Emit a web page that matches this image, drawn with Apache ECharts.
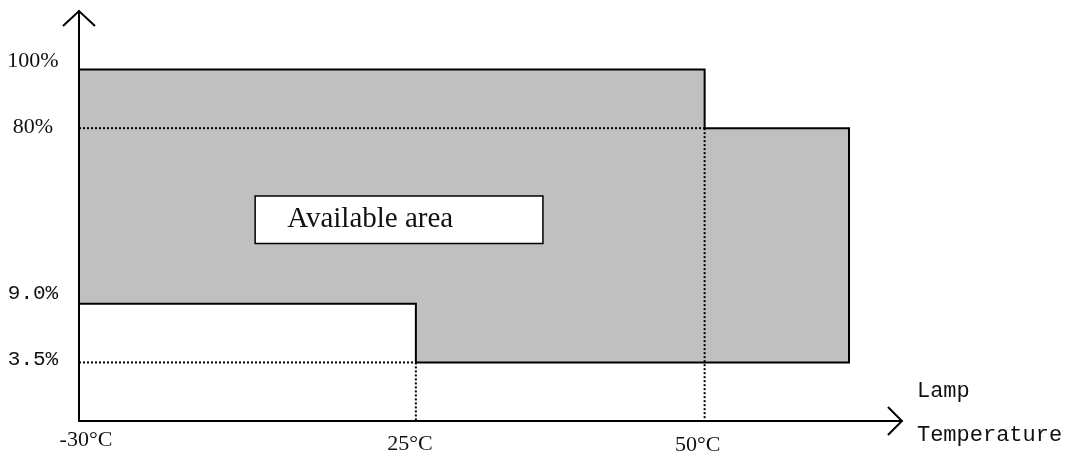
<!DOCTYPE html>
<html>
<head>
<meta charset="utf-8">
<script src="https://cdn.jsdelivr.net/npm/echarts@6/dist/echarts.min.js"></script>
<style>
  html, body { margin: 0; padding: 0; background: #fff; }
  #chart { width: 1076px; height: 452px; }
</style>
</head>
<body>
<div id="chart"></div>
<script>
// ---- Data (schematic, not-to-scale axis steps) ----
// X axis steps: -30℃ at step 0, 25℃ at step 7, 50℃ at step 13, upper limit at step 16
const xTickSteps = [0, 7, 13];
const xTickLabels = ['-30°C', '25°C', '50°C'];
const xUpperStep = 16;
// Y axis steps: 3.5% at 1, 9.0% at 2, 80% at 5, 100% at 6
const yTickSteps = [1, 2, 5, 6];
const yTickLabels = ['3.5%', '9.0%', '80%', '100%'];
// Outline of the available area (in axis steps)
const areaXSteps = [0, 13, 13, xUpperStep, xUpperStep, 7, 7, 0];
const areaYSteps = [6, 6, 5, 5, 1, 1, 2, 2];
// Dotted reference lines (80% up to 50℃, 3.5% up to 25℃)
const guideSegments = [
  [[0, 5], [13, 5]],
  [[13, 5], [13, 0]],
  [[0, 1], [7, 1]],
  [[7, 1], [7, 0]]
];
const areaLabel = 'Available area';
const xNameLines = ['Lamp', 'Temperature'];

const X_MAX = 17.1, Y_MAX = 7;

const yRichKey = { '100%': 'a', '80%': 'b', '9.0%': 'c', '3.5%': 'd' };
const xRichKey = { '-30°C': 'l', '25°C': 'm', '50°C': 'n' };

const chart = echarts.init(document.getElementById('chart'), null, { renderer: 'canvas' });

const option = {
  animation: false,
  backgroundColor: '#ffffff',
  grid: { left: 79, right: 1076 - 79 - 48.125 * X_MAX, top: 11, bottom: 31, containLabel: false, outerBoundsMode: 'none' },
  xAxis: {
    type: 'value', min: 0, max: X_MAX, interval: 1,
    splitLine: { show: false },
    axisTick: { show: false },
    axisLine: { show: true, onZero: false, lineStyle: { color: '#000', width: 2 } },
    axisLabel: {
      show: true, margin: 8, showMinLabel: true, showMaxLabel: true, hideOverlap: false,
      formatter: v => {
        const i = xTickSteps.indexOf(v);
        if (i < 0) return '';
        const t = xTickLabels[i];
        return '{' + xRichKey[t] + '|' + t + '}';
      },
      rich: {
        l: { fontFamily: 'Liberation Serif', fontSize: 22, color: '#111', padding: [0, 0, 0, 14] },
        m: { fontFamily: 'Liberation Serif', fontSize: 22, color: '#111', padding: [4, 12, 0, 0] },
        n: { fontFamily: 'Liberation Serif', fontSize: 22, color: '#111', padding: [5, 14, 0, 0] }
      }
    },
    name: '{p|' + xNameLines[0] + '}\n{p|' + xNameLines[1] + '}\n{r| }',
    nameLocation: 'end',
    nameGap: 15,
    nameTextStyle: {
      align: 'left', verticalAlign: 'middle',
      rich: {
        p: { fontFamily: 'Liberation Mono', fontSize: 22, color: '#111', lineHeight: 44 },
        r: { fontSize: 2, lineHeight: 16 }
      }
    }
  },
  yAxis: {
    type: 'value', min: 0, max: Y_MAX, interval: 1,
    splitLine: { show: false },
    axisTick: { show: false },
    axisLine: { show: true, onZero: false, lineStyle: { color: '#000', width: 2 } },
    axisLabel: {
      show: true, margin: 46, align: 'center', showMinLabel: true, showMaxLabel: true, hideOverlap: false,
      formatter: v => {
        const i = yTickSteps.indexOf(v);
        if (i < 0) return '';
        const t = yTickLabels[i];
        return '{' + yRichKey[t] + '|' + t + '}';
      },
      rich: {
        a: { fontFamily: 'Liberation Serif', fontSize: 22, color: '#111', padding: [0, 0, 16, 0] },
        b: { fontFamily: 'Liberation Serif', fontSize: 22, color: '#111', padding: [0, 0, 2, 0] },
        c: { fontFamily: 'Liberation Mono', fontSize: 21, color: '#111', padding: [0, 0, 20, 0] },
        d: { fontFamily: 'Liberation Mono', fontSize: 21, color: '#111', padding: [0, 0, 6, 0] }
      }
    }
  },
  series: [
    {
      type: 'custom',
      name: 'area',
      z: 2,
      data: [[0, 0]],
      renderItem: (params, api) => {
        const pts = areaXSteps.map((x, i) => api.coord([x, areaYSteps[i]]));
        return {
          type: 'polygon',
          shape: { points: pts },
          style: { fill: '#c0c0c0', stroke: '#000', lineWidth: 2 }
        };
      }
    },
    {
      type: 'custom',
      name: 'guides',
      z: 3,
      data: guideSegments.map((s, i) => [i, 0]),
      renderItem: (params, api) => {
        const seg = guideSegments[params.dataIndex];
        const p1 = api.coord(seg[0]);
        const p2 = api.coord(seg[1]);
        return {
          type: 'line',
          shape: { x1: p1[0], y1: p1[1], x2: p2[0], y2: p2[1] },
          style: { stroke: '#000', lineWidth: 2, lineDash: [2, 2] }
        };
      }
    },
    {
      type: 'custom',
      name: 'labelBox',
      z: 4,
      data: [[0, 0]],
      renderItem: (params, api) => {
        const tl = api.coord([3.66, 3.84]);
        const br = api.coord([9.64, 3.03]);
        return {
          type: 'group',
          children: [
            {
              type: 'rect',
              shape: { x: tl[0], y: tl[1], width: br[0] - tl[0], height: br[1] - tl[1] },
              style: { fill: '#fff', stroke: '#000', lineWidth: 1.5 }
            },
            {
              type: 'text',
              x: tl[0] + 32, y: (tl[1] + br[1]) / 2,
              style: {
                text: areaLabel, fill: '#111',
                font: '29px "Liberation Serif"',
                align: 'left', verticalAlign: 'middle'
              }
            }
          ]
        };
      }
    },
    {
      type: 'custom',
      name: 'arrows',
      z: 5,
      data: [[0, 0]],
      renderItem: (params, api) => {
        const yt = api.coord([0, Y_MAX]);
        const xt = api.coord([X_MAX, 0]);
        return {
          type: 'group',
          children: [
            {
              type: 'polyline',
              shape: { points: [[yt[0] - 16, yt[1] + 15], [yt[0], yt[1]], [yt[0] + 16, yt[1] + 15]] },
              style: { stroke: '#000', lineWidth: 2, fill: null }
            },
            {
              type: 'polyline',
              shape: { points: [[xt[0] - 14, xt[1] - 14], [xt[0], xt[1]], [xt[0] - 14, xt[1] + 14]] },
              style: { stroke: '#000', lineWidth: 2, fill: null }
            }
          ]
        };
      }
    }
  ]
};

chart.setOption(option);
</script>
</body>
</html>
